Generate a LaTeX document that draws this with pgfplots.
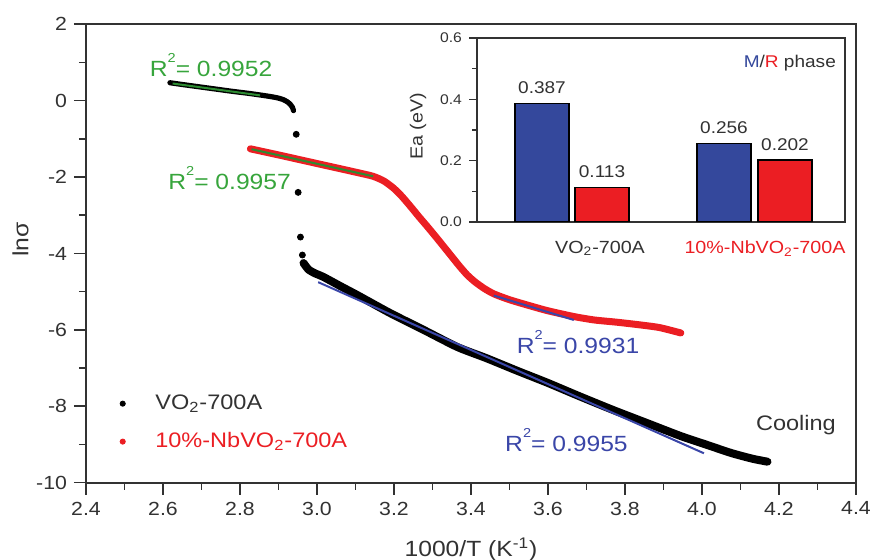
\documentclass[border=0pt]{standalone}
\usepackage{pgfplots}
\pgfplotsset{compat=1.18}
\usepackage{fontspec}
\setmainfont{Liberation Sans}[FakeStretch=1.12]
\definecolor{txt}{RGB}{50,50,50}
\definecolor{myred}{RGB}{235,30,35}
\definecolor{mygreen}{RGB}{55,165,60}
\definecolor{fitgreen}{RGB}{45,140,50}
\definecolor{myblue}{RGB}{58,70,168}
\definecolor{barblue}{RGB}{52,72,156}
\newcommand{\Rsq}{R\raisebox{0.62em}{\fontsize{6.5}{6.5}\selectfont 2}}
\begin{document}
\begin{tikzpicture}
\begin{axis}[
  at={(0,0)}, anchor=south west,
  scale only axis, width=385pt, height=229.2pt,
  xmin=2.4, xmax=4.4, ymin=-10, ymax=2,
  xtick={2.4,2.6,...,4.41}, ytick={-10,-8,...,2},
  minor x tick num=1, minor y tick num=1,
  tick pos=left, tick align=outside,
  major tick length=6pt, minor tick length=3.5pt,
  axis line style={line width=1pt, txt},
  every tick/.style={line width=0.8pt, txt},
  xticklabel style={/pgf/number format/fixed, /pgf/number format/fixed zerofill, /pgf/number format/precision=1},
  /pgf/number format/assume math mode=true,
  tick label style={font=\fontsize{9.5}{11}\selectfont, text=txt},
  every axis x label/.style={at={(axis description cs:0.5,-0.145)}, anchor=center},
  every axis y label/.style={at={(axis description cs:-0.085,0.53)}, rotate=90, anchor=center},
  xlabel={1000/T (K\textsuperscript{-1})},
  ylabel={lnσ},
  label style={font=\fontsize{11}{13}\selectfont, text=txt},
  legend style={at={(axis description cs:0.036,0.21)}, anchor=north west, draw=none, fill=none,
    font=\fontsize{10.5}{12}\selectfont, row sep=6pt,
    /tikz/every odd column/.append style={column sep=13pt}},
  legend cell align=left,
  clip=false,
]
\addlegendimage{only marks, mark=*, mark size=1.3pt, black}
\addlegendentry{\textcolor{txt}{VO\textsubscript{2}-700A}}
\addlegendimage{only marks, mark=*, mark size=1.3pt, myred}
\addlegendentry{\textcolor{myred}{10\%-NbVO\textsubscript{2}-700A}}

% black series: upper branch
\addplot[forget plot, black, line width=2.6pt, line cap=round, line join=round, smooth, tension=0.4] coordinates {
(2.618,0.47) (2.66,0.41) (2.70,0.355) (2.74,0.30) (2.78,0.245) (2.82,0.195) (2.852,0.15)
(2.875,0.115) (2.897,0.075) (2.912,0.03) (2.923,-0.03) (2.931,-0.10) (2.936,-0.17) (2.939,-0.26)};
% black series: isolated points in the transition
\addplot[forget plot, only marks, mark=*, mark size=1.5pt, black] coordinates {
(2.946,-0.88) (2.951,-2.40) (2.957,-3.57) (2.962,-4.04)};
% black series: lower branch
\addplot[forget plot, black, line width=4pt, line cap=round, line join=round, smooth, tension=0.4] coordinates {
(2.965,-4.25) (2.978,-4.42) (2.995,-4.52) (3.016,-4.61) (3.06,-4.85) (3.105,-5.09) (3.19,-5.56)
(3.277,-6.00) (3.365,-6.45) (3.44,-6.74) (3.52,-7.07) (3.60,-7.39) (3.68,-7.73) (3.77,-8.10)
(3.86,-8.45) (3.945,-8.78) (4.01,-9.00) (4.075,-9.22) (4.13,-9.37) (4.17,-9.45)};
% red series
\addplot[forget plot, myred, line width=3.5pt, line cap=round, line join=round, smooth, tension=0.4] coordinates {
(2.827,-1.26) (2.9,-1.42) (3.0,-1.645) (3.1,-1.87) (3.146,-1.98) (3.175,-2.11) (3.2,-2.30)
(3.22,-2.50) (3.243,-2.77) (3.265,-3.04) (3.287,-3.30) (3.31,-3.58) (3.33,-3.83) (3.35,-4.08)
(3.37,-4.33) (3.39,-4.56) (3.41,-4.74) (3.435,-4.92) (3.46,-5.06) (3.50,-5.21) (3.55,-5.36)
(3.60,-5.50) (3.667,-5.65) (3.72,-5.74) (3.78,-5.80) (3.84,-5.87) (3.89,-5.94) (3.945,-6.08)};
% fit lines
\addplot[forget plot, fitgreen, line width=1pt] coordinates {(2.625,0.45) (2.852,0.14)};
\addplot[forget plot, fitgreen, line width=1pt] coordinates {(2.83,-1.27) (3.146,-1.98)};
\addplot[forget plot, myblue, line width=1pt] coordinates {(3.459,-5.10) (3.667,-5.74)};
\addplot[forget plot, myblue, line width=1pt] coordinates {(3.003,-4.75) (4.005,-9.23)};

\node[text=mygreen, font=\fontsize{11}{13}\selectfont] at (axis cs:2.725,0.935) {\Rsq= 0.9952};
\node[text=mygreen, font=\fontsize{11}{13}\selectfont] at (axis cs:2.773,-2.02) {\Rsq= 0.9957};
\node[text=myblue, font=\fontsize{11}{13}\selectfont] at (axis cs:3.678,-6.32) {\Rsq= 0.9931};
\node[text=myblue, font=\fontsize{11}{13}\selectfont] at (axis cs:3.648,-8.88) {\Rsq= 0.9955};
\node[text=txt, font=\fontsize{10.5}{12}\selectfont] at (axis cs:4.244,-8.49) {Cooling};
\end{axis}

\begin{axis}[
  at={(195.5pt,130.35pt)}, anchor=south west,
  scale only axis, width=184pt, height=92pt,
  xmin=477, xmax=845, ymin=0, ymax=0.6,
  ytick={0,0.2,0.4,0.6}, minor y tick num=1,
  yticklabel style={/pgf/number format/fixed, /pgf/number format/fixed zerofill, /pgf/number format/precision=1},
  /pgf/number format/assume math mode=true,
  xtick={600,765}, xticklabels={{\textcolor{txt}{VO\textsubscript{2}-700A}},{\textcolor{myred}{10\%-NbVO\textsubscript{2}-700A}}},
  x tick style={draw=none},
  xticklabel style={font=\fontsize{8.8}{10}\selectfont, yshift=-2pt},
  yticklabel style={font=\fontsize{7}{8}\selectfont, text=txt},
  tick pos=left, tick align=outside,
  major tick length=4pt, minor tick length=2.5pt,
  axis line style={line width=0.9pt, txt},
  every tick/.style={line width=0.7pt, txt},
  ylabel={Ea (eV)},
  every axis y label/.style={at={(axis description cs:-0.16,0.52)}, rotate=90, anchor=center},
  label style={font=\fontsize{8.8}{10}\selectfont, text=txt},
  axis background/.style={fill=white},
  ybar, bar width=54, bar shift=0pt,
  point meta=explicit symbolic,
  nodes near coords,
  every node near coord/.append style={font=\fontsize{8.5}{10}\selectfont, text=txt, yshift=1pt},
]
\addplot[fill=barblue, draw=black, line width=0.7pt] coordinates {(542,0.387)[0.387] (724,0.256)[0.256]};
\addplot[fill=myred, draw=black, line width=0.7pt] coordinates {(602,0.113)[0.113] (785,0.202)[0.202]};
\node[font=\fontsize{8.5}{10}\selectfont, text=txt] at (axis description cs:0.85,0.864) {\textcolor{barblue}{M}/\textcolor{myred}{R} phase};
\end{axis}
\pgfresetboundingbox
\path (-43pt,-38.65pt) rectangle (392.5pt,241.35pt);
\end{tikzpicture}
\end{document}
